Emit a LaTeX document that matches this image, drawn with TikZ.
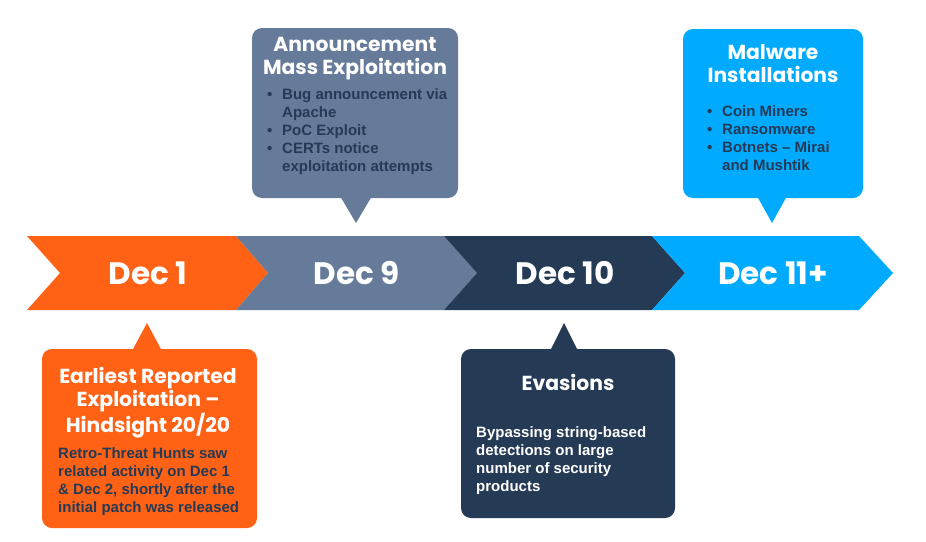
\documentclass[tikz,border=0pt]{standalone}
\usepackage{fontspec}
\setmainfont{Liberation Sans}
\newfontfamily\pop{Poppins}
\definecolor{corange}{HTML}{FF6215}
\definecolor{cslate}{HTML}{667B9A}
\definecolor{cnavy}{HTML}{253A55}
\definecolor{cblue}{HTML}{00AAFF}
\tikzset{
  datelbl/.style={font=\pop\bfseries\fontsize{31}{31}\selectfont, text=white, inner sep=0pt, anchor=base},
  ttl/.style={font=\pop\bfseries\fontsize{20.3}{22.5}\selectfont, text=white, align=center, inner sep=0pt, anchor=base},
  body/.style={font=\bfseries\fontsize{15}{18}\selectfont, inner sep=0pt, anchor=base west, align=left},
  callout/.style={fill=#1, rounded corners=10pt, inner sep=0pt},
}
\newcommand{\bul}{\textbullet}
\begin{document}
\begin{tikzpicture}[x=1pt,y=-1pt]
\useasboundingbox (0,0) rectangle (926,541);
% chevrons
\fill[corange] (27,236) -- (236,236) -- (268,273) -- (236,310) -- (27,310) -- (60,273) -- cycle;
\fill[cslate] (236,236) -- (444,236) -- (477,273) -- (444,310) -- (236,310) -- (268,273) -- cycle;
\fill[cnavy] (444,236) -- (652,236) -- (685,273) -- (652,310) -- (444,310) -- (477,273) -- cycle;
\fill[cblue] (652,236) -- (859,236) -- (893,273) -- (859,310) -- (652,310) -- (685,273) -- cycle;
\node[datelbl] (d1) at (148,284) {Dec 1};
\node[datelbl] (d9) at (357,284) {Dec 9};
\node[datelbl] (d10) at (565,284) {Dec 10};
\node[datelbl] (d11) at (773,284) {Dec 11+};
% callout 1
\node[callout=cslate, minimum width=206pt, minimum height=170pt] (b1) at (355,113) {};
\fill[cslate] (340,196) -- (372,196) -- (356,223) -- cycle;
\node[ttl] (t1) at (355,74) {Announcement\\Mass Exploitation};
\node[body, text=cnavy] (l1) at (267,99) {\begin{tabular}[t]{@{}p{15pt}@{}l@{}}
\bul & Bug announcement via\\ & Apache\\ \bul & PoC Exploit\\ \bul & CERTs notice\\ & exploitation attempts\end{tabular}};
% callout 2
\node[callout=cblue, minimum width=180pt, minimum height=169pt] (b2) at (773,113.5) {};
\fill[cblue] (757,196) -- (787,196) -- (772,223) -- cycle;
\node[ttl] (t2) at (773,82) {Malware\\Installations};
\node[body, text=cnavy] (l2) at (707,116) {\begin{tabular}[t]{@{}p{15pt}@{}l@{}}
\bul & Coin Miners\\ \bul & Ransomware\\ \bul & Botnets – Mirai\\ & and Mushtik\end{tabular}};
% callout 3
\node[callout=corange, minimum width=215pt, minimum height=179pt] (b3) at (149.5,438.5) {};
\fill[corange] (132,351) -- (162,351) -- (147,323) -- cycle;
\node[ttl, font=\pop\bfseries\fontsize{20.3}{23.3}\selectfont] (t3) at (148,432.5) {Earliest Reported\\Exploitation –\\Hindsight 20/20};
\node[body, text=cnavy] (l3) at (58,512) {Retro-Threat Hunts saw\\related activity on Dec 1\\\& Dec 2, shortly after the\\initial patch was released};
% callout 4
\node[callout=cnavy, minimum width=214pt, minimum height=169pt] (b4) at (568,433.5) {};
\fill[cnavy] (550,351) -- (578,351) -- (564,323) -- cycle;
\node[ttl] (t4) at (568,390) {Evasions};
\node[body, text=white] (l4) at (476,491) {Bypassing string-based\\detections on large\\number of security\\products};
\end{tikzpicture}
\end{document}
